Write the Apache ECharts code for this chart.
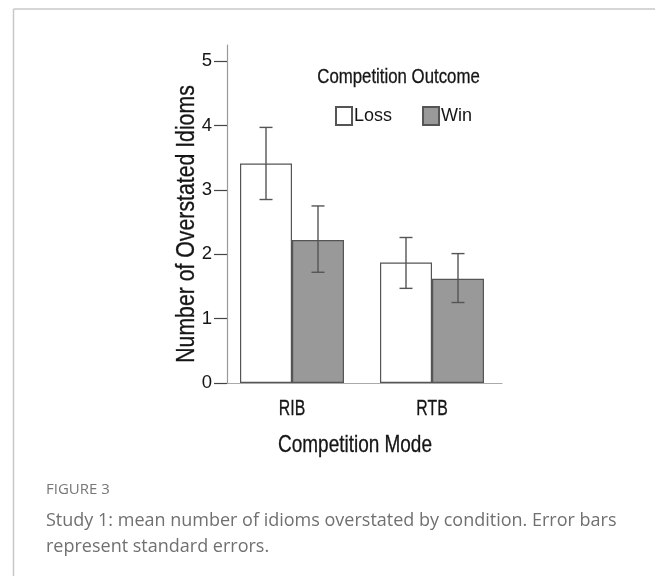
<!DOCTYPE html>
<html>
<head>
<meta charset="utf-8">
<script src="https://cdn.jsdelivr.net/npm/echarts@6/dist/echarts.min.js"></script>
<style>
html,body{margin:0;padding:0;background:#fff;}
#c{width:655px;height:576px;}
</style>
</head>
<body>
<div id="c"></div>
<script>
const categories = ['RIB', 'RTB'];
const seriesNames = ['Loss', 'Win'];
const lossMeans = [3.41, 1.87];
const winMeans = [2.22, 1.62];
const lossUpper = [3.97, 2.26];
const lossLower = [2.85, 1.47];
const winUpper = [2.75, 2.01];
const winLower = [1.72, 1.25];
const yTicks = [0, 1, 2, 3, 4, 5];

const SANS = '"Liberation Sans", Arial, sans-serif';
const INK = '#151515';
const BAR_W = 52;

function errSeries(name, upper, lower, side) {
  return {
    type: 'custom',
    name: name + ' SE',
    z: 5,
    silent: true,
    data: categories.map((c, i) => [i, lower[i], upper[i]]),
    renderItem: function (params, api) {
      const lo = api.coord([api.value(0), api.value(1)]);
      const hi = api.coord([api.value(0), api.value(2)]);
      const x = lo[0] + side * BAR_W / 2;
      const cap = 6.5;
      const st = { stroke: '#555', lineWidth: 1.4 };
      return {
        type: 'group',
        children: [
          { type: 'line', shape: { x1: x, y1: hi[1], x2: x, y2: lo[1] }, style: st },
          { type: 'line', shape: { x1: x - cap, y1: hi[1], x2: x + cap, y2: hi[1] }, style: st },
          { type: 'line', shape: { x1: x - cap, y1: lo[1], x2: x + cap, y2: lo[1] }, style: st }
        ]
      };
    }
  };
}

// condensed category labels placed through the category scale
const catLabelSeries = {
  type: 'custom',
  name: 'category labels',
  silent: true,
  z: 6,
  data: categories.map((c, i) => [i, 0]),
  renderItem: function (params, api) {
    const p = api.coord([api.value(0), 0]);
    return {
      type: 'text',
      x: p[0],
      y: p[1] + 26,
      scaleX: 0.72,
      style: {
        text: categories[params.dataIndex],
        fontFamily: SANS, fontSize: 22, fill: INK,
        stroke: INK, lineWidth: 0.3,
        align: 'center', verticalAlign: 'middle'
      }
    };
  }
};

function condensed(text, x, y, size, sx, rot) {
  return {
    type: 'text', x: x, y: y, scaleX: sx, rotation: rot || 0, silent: true,
    style: { text: text, fontFamily: SANS, fontSize: size, fill: INK, stroke: INK, lineWidth: 0.3,
      align: 'center', verticalAlign: 'middle' }
  };
}

const chart = echarts.init(document.getElementById('c'), null, { renderer: 'canvas' });
chart.setOption({
  backgroundColor: '#fff',
  animation: false,
  grid: { left: 222, right: 153, top: 45, bottom: 193, containLabel: false },
  legend: {
    data: seriesNames,
    left: 330, top: 101,
    icon: 'rect',
    itemWidth: 16, itemHeight: 18,
    itemGap: 30,
    textStyle: { fontFamily: SANS, fontSize: 18, color: INK, padding: [0, 0, 0, -3] }
  },
  xAxis: {
    type: 'category',
    data: categories,
    axisLine: { lineStyle: { color: '#aaa', width: 1.2 } },
    axisTick: { alignWithLabel: true, length: 11, lineStyle: { color: '#444', width: 1.2 } },
    axisLabel: { show: false }
  },
  yAxis: {
    type: 'value',
    min: 0, max: 5.25,
    offset: -5,
    splitLine: { show: false },
    axisLine: { show: true, lineStyle: { color: '#999', width: 1.2 } },
    axisTick: { show: true, length: 13, customValues: yTicks, lineStyle: { color: '#444', width: 1.2 } },
    axisLabel: { customValues: yTicks, fontFamily: SANS, fontSize: 18.5, color: INK, margin: 15 }
  },
  series: [
    {
      type: 'bar', name: 'Loss', data: lossMeans, barWidth: BAR_W, barGap: '0%',
      itemStyle: { color: '#ffffff', borderColor: '#555', borderWidth: 1.2 }
    },
    {
      type: 'bar', name: 'Win', data: winMeans, barWidth: BAR_W, barGap: '0%',
      itemStyle: { color: '#999999', borderColor: '#555', borderWidth: 1.2 }
    },
    errSeries('Loss', lossUpper, lossLower, -1),
    errSeries('Win', winUpper, winLower, 1),
    catLabelSeries
  ],
  graphic: [
    { type: 'line', silent: true, shape: { x1: 13.5, y1: 9, x2: 655, y2: 9 }, style: { stroke: '#c8c8c8', lineWidth: 1.5 } },
    { type: 'line', silent: true, shape: { x1: 13.5, y1: 9, x2: 13.5, y2: 576 }, style: { stroke: '#c8c8c8', lineWidth: 1.5 } },
    condensed('Competition Outcome', 398.5, 77, 21, 0.8),
    condensed('Competition Mode', 355, 445.5, 24, 0.79),
    condensed('Number of Overstated Idioms', 187, 224, 25, 0.85, Math.PI / 2),
    { type: 'text', left: 46, top: 482, style: { text: 'FIGURE 3', fontFamily: '"Open Sans", sans-serif', fontSize: 15, fill: '#777' } },
    { type: 'text', left: 46, top: 508, style: { text: 'Study 1: mean number of idioms overstated by condition. Error bars\nrepresent standard errors.', fontFamily: '"Open Sans", sans-serif', fontSize: 18, lineHeight: 26, fill: '#707070' } }
  ]
});
</script>
</body>
</html>
